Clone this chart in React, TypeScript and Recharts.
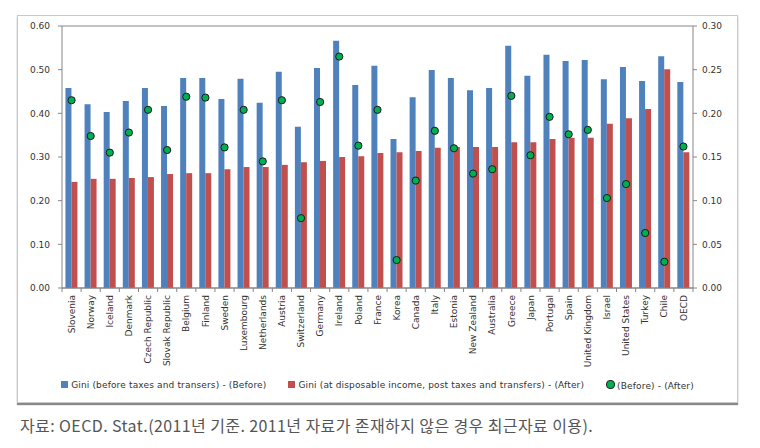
import { ComposedChart, Bar, Line, XAxis, YAxis, CartesianGrid, Legend } from 'recharts'

const countries = [
  'Slovenia', 'Norway', 'Iceland', 'Denmark', 'Czech Republic', 'Slovak Republic', 'Belgium',
  'Finland', 'Sweden', 'Luxembourg', 'Netherlands', 'Austria', 'Switzerland', 'Germany',
  'Ireland', 'Poland', 'France', 'Korea', 'Canada', 'Italy', 'Estonia', 'New Zealand',
  'Australia', 'Greece', 'Japan', 'Portugal', 'Spain', 'United Kingdom', 'Israel',
  'United States', 'Turkey', 'Chile', 'OECD',
]

// Gini before taxes and transfers
const before = [
  0.458, 0.421, 0.403, 0.428, 0.458, 0.417, 0.481, 0.481, 0.433, 0.479, 0.424, 0.495, 0.369,
  0.504, 0.566, 0.465, 0.509, 0.341, 0.437, 0.499, 0.481, 0.453, 0.458, 0.555, 0.486, 0.534,
  0.520, 0.522, 0.478, 0.506, 0.474, 0.531, 0.472,
]

// Gini after taxes and transfers
const after = [
  0.243, 0.250, 0.250, 0.252, 0.254, 0.261, 0.263, 0.263, 0.272, 0.277, 0.277, 0.282, 0.288,
  0.291, 0.300, 0.302, 0.309, 0.311, 0.314, 0.321, 0.323, 0.323, 0.323, 0.334, 0.334, 0.341,
  0.344, 0.344, 0.376, 0.389, 0.410, 0.501, 0.311,
]

// difference, right axis
const diff = [
  0.215, 0.174, 0.155, 0.178, 0.204, 0.158, 0.219, 0.218, 0.161, 0.204, 0.145, 0.215, 0.080,
  0.213, 0.265, 0.163, 0.204, 0.032, 0.123, 0.180, 0.160, 0.131, 0.136, 0.220, 0.152, 0.196,
  0.176, 0.181, 0.103, 0.119, 0.063, 0.030, 0.162,
]

const leftTicks = [0, 0.1, 0.2, 0.3, 0.4, 0.5, 0.6]
const rightTicks = [0, 0.05, 0.1, 0.15, 0.2, 0.25, 0.3]

const legendNames = [
  'Gini (before taxes and transers) - (Before)',
  'Gini (at disposable income, post taxes and transfers) - (After)',
  '(Before) - (After)',
]

const data = countries.map((c, i) => ({ name: c, before: before[i], after: after[i], diff: diff[i] }))

const BLUE = '#4F81BD'
const RED = '#C0504D'
const GREEN = '#00B050'
const FONT = '"DejaVu Sans", sans-serif'

const BAND = 631 / countries.length

const CountryTick = (props: any) => {
  const { x, y, payload, index } = props
  return (
    <g transform={`translate(${x},${y})`}>
      <line x1={-BAND / 2} y1={-6} x2={-BAND / 2} y2={-2} stroke="#868686" />
      {index === countries.length - 1 && (
        <line x1={BAND / 2} y1={-6} x2={BAND / 2} y2={-2} stroke="#868686" />
      )}
      <text
        transform="rotate(-90)"
        textAnchor="end"
        dy="0.35em"
        x={-1}
        fontSize={9}
        fill="#333"
        fontFamily={FONT}
      >
        {payload.value}
      </text>
    </g>
  )
}

const LegendBox = () => (
  <div style={{ display: 'flex', justifyContent: 'center', fontSize: 9, fontFamily: FONT, color: '#333', gap: 22, letterSpacing: 0.15, whiteSpace: 'nowrap' }}>
    <span><span style={{ display: 'inline-block', width: 7, height: 7, background: BLUE, marginRight: 3 }} />{legendNames[0]}</span>
    <span><span style={{ display: 'inline-block', width: 7, height: 7, background: RED, marginRight: 3 }} />{legendNames[1]}</span>
    <span><span style={{ display: 'inline-block', width: 7, height: 7, borderRadius: 4, background: GREEN, border: '1px solid #222', marginRight: 2 }} />{legendNames[2]}</span>
  </div>
)

export default function App() {
  return (
    <div style={{ position: 'absolute', left: 0, top: 0, width: 760, height: 448, background: '#fff' }}>
      <div
        style={{
          position: 'absolute', left: 17, top: 15, width: 719, height: 386,
          border: '1px solid #c8c8c8', boxShadow: '0 2px 1px #8a8a8a', background: '#fff',
        }}
      >
        <ComposedChart
          width={719}
          height={386}
          data={data}
          margin={{ top: 10, right: 0, bottom: 0, left: 0 }}
          barGap={0}
          barCategoryGap="18%"
        >
          <CartesianGrid vertical={false} stroke="#868686" />
          <XAxis
            dataKey="name"
            interval={0}
            height={92}
            tickLine={false}
            tickSize={4}
            tickMargin={2}
            stroke="#868686"
            tick={<CountryTick />}
          />
          <YAxis
            yAxisId="left"
            domain={[0, 0.6]}
            ticks={leftTicks}
            width={44}
            tickSize={4}
            tickMargin={8}
            tickFormatter={(v: number) => v.toFixed(2)}
            stroke="#868686"
            tick={{ fontSize: 9, fill: '#333', fontFamily: FONT }}
          />
          <YAxis
            yAxisId="right"
            orientation="right"
            domain={[0, 0.3]}
            ticks={rightTicks}
            width={44}
            tickSize={4}
            tickMargin={5}
            tickFormatter={(v: number) => v.toFixed(2)}
            stroke="#868686"
            tick={{ fontSize: 9, fill: '#333', fontFamily: FONT }}
          />
          <Legend verticalAlign="bottom" height={22} content={<LegendBox />} />
          <Bar yAxisId="left" dataKey="before" name={legendNames[0]} fill={BLUE} isAnimationActive={false} />
          <Bar yAxisId="left" dataKey="after" name={legendNames[1]} fill={RED} isAnimationActive={false} />
          <Line
            yAxisId="right"
            dataKey="diff"
            name={legendNames[2]}
            stroke="none"
            dot={{ r: 3.6, fill: GREEN, stroke: '#1a1a1a', strokeWidth: 1 }}
            activeDot={false}
            isAnimationActive={false}
          />
        </ComposedChart>
      </div>
      <div
        style={{
          position: 'absolute', left: 20, top: 413, fontSize: 16, color: '#555', letterSpacing: 0.4,
          fontFamily: '"Noto Sans CJK KR", sans-serif', whiteSpace: 'nowrap',
        }}
      >
        자료: OECD. Stat.(2011년 기준. 2011년 자료가 존재하지 않은 경우 최근자료 이용).
      </div>
    </div>
  )
}
